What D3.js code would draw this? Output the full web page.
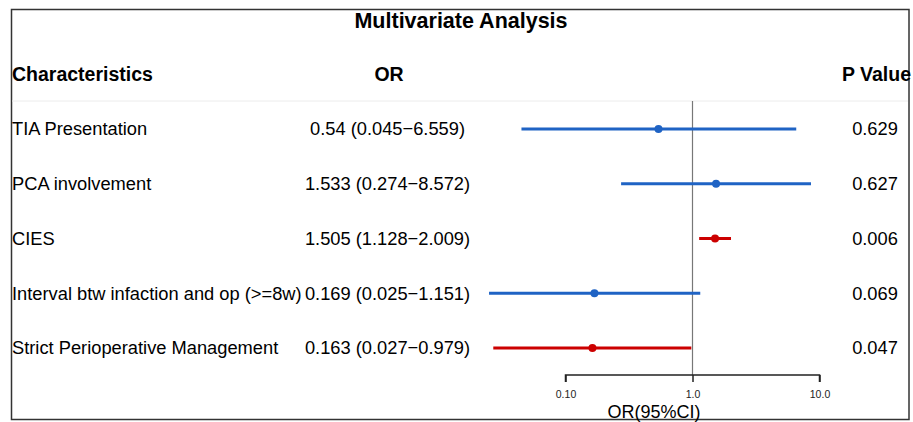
<!DOCTYPE html>
<html><head><meta charset="utf-8">
<script src="https://cdn.jsdelivr.net/npm/d3@7/dist/d3.min.js"></script>
<style>body{margin:0;background:#fff;} svg{display:block;font-family:"Liberation Sans",Arial,sans-serif;}</style>
</head><body>
<script>
const characteristics = ["TIA Presentation","PCA involvement","CIES","Interval btw infaction and op (>=8w)","Strict Perioperative Management"];
const orValues = [0.54, 1.533, 1.505, 0.169, 0.163];
const lowerCI = [0.045, 0.274, 1.128, 0.025, 0.027];
const upperCI = [6.559, 8.572, 2.009, 1.151, 0.979];
const orLabels = ["0.54 (0.045\u22126.559)","1.533 (0.274\u22128.572)","1.505 (1.128\u22122.009)","0.169 (0.025\u22121.151)","0.163 (0.027\u22120.979)"];
const pValues = ["0.629","0.627","0.006","0.069","0.047"];
const significant = [false,false,true,false,true];
const tickValues = [0.1, 1, 10];
const tickLabels = ["0.10","1.0","10.0"];

const W = 913, H = 422;
const svg = d3.select("body").append("svg").attr("width", W).attr("height", H);

const x = d3.scaleLog().domain([0.1, 10]).range([565.5, 819.5]);
const y = d3.scalePoint().domain(d3.range(characteristics.length)).range([129, 348]);

// border
svg.append("rect").attr("x", 11.5).attr("y", 9.5).attr("width", 897.5).attr("height", 410)
  .attr("fill", "none").attr("stroke", "#333").attr("stroke-width", 1.5);

svg.append("text").attr("x", 461).attr("y", 28).attr("text-anchor", "middle")
  .attr("font-weight", "bold").attr("font-size", 21.5).text("Multivariate Analysis");

// headers
svg.append("text").attr("x", 12).attr("y", 81).attr("font-weight", "bold").attr("font-size", 19.5).text("Characteristics");
svg.append("text").attr("x", 389).attr("y", 81).attr("text-anchor", "middle").attr("font-weight", "bold").attr("font-size", 19.5).text("OR");
svg.append("text").attr("x", 911).attr("y", 81).attr("text-anchor", "end").attr("font-weight", "bold").attr("font-size", 19.5).text("P Value");

svg.append("line").attr("x1", 12).attr("x2", 908).attr("y1", 101).attr("y2", 101)
  .attr("stroke", "#ececec").attr("stroke-width", 1);

// reference line
svg.append("line").attr("x1", x(1)).attr("x2", x(1)).attr("y1", 101).attr("y2", 375)
  .attr("stroke", "#777").attr("stroke-width", 1.2);

const rows = svg.append("g").selectAll("g").data(characteristics).join("g")
  .attr("transform", (d, i) => `translate(0,${y(i)})`);

rows.append("text").attr("x", 12).attr("dy", "0.35em").attr("font-size", 18.3).text(d => d);
rows.append("text").attr("x", 387.5).attr("dy", "0.35em").attr("text-anchor", "middle").attr("font-size", 18.3)
  .text((d, i) => orLabels[i]);
rows.append("text").attr("x", 875).attr("dy", "0.35em").attr("text-anchor", "middle").attr("font-size", 18.3)
  .text((d, i) => pValues[i]);

const col = i => significant[i] ? "#cc0000" : "#1f63c4";
rows.append("line").attr("x1", (d, i) => x(lowerCI[i])).attr("x2", (d, i) => x(upperCI[i]))
  .attr("stroke", (d, i) => col(i)).attr("stroke-width", 3);
rows.append("circle").attr("cx", (d, i) => x(orValues[i])).attr("r", 4)
  .attr("fill", (d, i) => col(i));

// axis
const axis = d3.axisBottom(x).tickValues(tickValues).tickFormat((d, i) => tickLabels[i]).tickSize(7).tickPadding(9);
const ag = svg.append("g").attr("transform", "translate(0,375)").call(axis);
ag.select(".domain").attr("stroke", "#222").attr("stroke-width", 1.5).attr("d", `M${x(0.1)},7V0H${x(10)}V7`);
ag.selectAll(".tick line").attr("stroke", "#222").attr("stroke-width", 1.5);
ag.selectAll(".tick text").attr("font-size", 10.5).attr("font-family", "Liberation Sans, Arial, sans-serif").attr("fill", "#222");

svg.append("text").attr("x", 654).attr("y", 418).attr("text-anchor", "middle").attr("font-size", 18).text("OR(95%CI)");
</script>
</body></html>
